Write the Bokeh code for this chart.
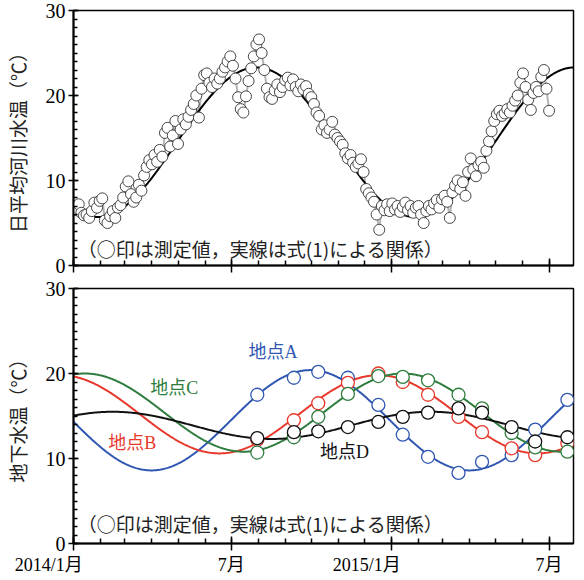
import numpy as np
from bokeh.plotting import figure
from bokeh.layouts import column
from bokeh.models import FixedTicker, Range1d, Label
from bokeh.embed import file_html
from bokeh.resources import INLINE

# ---------------- data ----------------
# x axis: days since 2014-01-01
month_start_days = [0, 31, 59, 90, 120, 151, 181, 212, 243, 273, 304, 334,
                    365, 396, 424, 455, 485, 516, 546]
major_tick_days = [0, 181, 365, 546]
major_tick_labels = ["2014/1月", "7月", "2015/1月", "7月"]
y_ticks = [0, 10, 20, 30]

# daily mean river water temperature, read every 3 days (day 0, 3, 6, ...)
river_temp = [
    7.0, 6.5, 7.2, 6.2, 5.9, 6.0, 5.6, 6.4, 7.4, 6.8, 7.6, 7.9, 5.3, 5.0, 5.8, 6.4,
    5.6, 6.8, 7.1, 8.0, 9.3, 9.9, 8.4, 7.5, 8.0, 9.5, 8.8, 10.6, 11.6, 12.4, 11.9, 13.0,
    12.2, 13.6, 12.8, 15.6, 16.2, 14.0, 15.3, 17.0, 14.3, 16.0, 17.2, 16.6, 17.5, 18.3,
    19.0, 20.0, 17.4, 20.8, 22.4, 22.6, 21.5, 21.0, 22.0, 21.4, 22.0, 22.8, 23.3, 24.0,
    24.6, 23.5, 22.0, 19.8, 18.4, 18.0, 19.9, 21.7, 23.2, 24.6, 26.0, 26.6, 25.0, 23.0,
    20.8, 19.8, 19.6, 20.6, 21.3, 20.4, 21.0, 21.8, 22.1, 21.2, 21.9, 21.0, 20.5, 21.3,
    20.7, 21.1, 20.2, 19.8, 19.0, 18.0, 17.6, 16.0, 16.5, 15.6, 16.0, 16.9, 15.4, 15.0,
    14.6, 14.2, 13.2, 12.6, 13.0, 12.1, 11.6, 12.0, 12.5, 11.0, 9.0, 8.5, 8.0, 7.5,
    6.0, 4.2, 7.0, 6.5, 7.2, 6.4, 7.3, 6.6, 7.0, 6.3, 6.9, 7.4, 6.5, 7.0, 6.2, 6.8,
    7.0, 6.0, 5.0, 6.4, 7.0, 6.6, 7.3, 7.7, 6.8, 7.8, 8.2, 7.5, 5.6, 8.6, 9.4, 10.0,
    9.0, 9.8, 8.2, 11.0, 12.6, 11.3, 10.5, 11.8, 12.2, 11.5, 13.5, 14.6, 15.8, 17.0,
    17.8, 18.2, 17.6, 17.9, 18.4, 18.0, 18.8, 19.4, 20.0, 21.5, 22.6, 21.0, 19.5, 18.3,
    20.3, 21.0, 20.5, 22.2, 23.0, 20.8, 18.2,
]
river_days = list(range(0, 3 * len(river_temp), 3))

# fitted relation (solid line, eq.(1)): mean, amplitude, peak day
river_fit = (14.5, 8.8, 210)

site_names = ["地点A", "地点B", "地点C", "地点D"]
meas_days = [211, 253, 281, 315, 350, 378, 407, 442, 469, 503, 530, 567]
site_A = [17.5, 19.5, 20.2, 19.5, 16.3, 12.8, 10.2, 8.3, 9.6, 10.4, 13.4, 16.9]
site_B = [12.2, 14.5, 16.5, 18.9, 20.0, 19.0, 17.5, 14.9, 13.1, 11.2, 10.4, 11.8]
site_C = [10.7, 12.5, 14.9, 17.6, 19.7, 19.6, 19.2, 17.5, 15.9, 13.0, 11.3, 10.8]
site_D = [12.4, 13.1, 13.2, 13.7, 14.3, 14.9, 15.4, 15.9, 15.4, 13.7, 12.0, 12.5]
site_fit_A = (14.5, 5.9, 272)
site_fit_B = (15.2, 4.6, 350)
site_fit_C = (15.4, 4.6, 378)
site_fit_D = (13.9, 1.6, 410)

note_text = "（○印は測定値，実線は式(1)による関係）"

# ---------------- styling ----------------
X_END = 574
FRAME_H = 255
col_A, col_B, col_C, col_D = "#2f56b0", "#e8382c", "#2f7d3e", "#111111"
JP = "Noto Sans CJK JP"
MIX = "'Liberation Serif', 'Noto Sans CJK JP'"
NB = "\u00a0"

curve_days = np.arange(0, X_END + 1)


def fit_curve(params):
    mean, amp, peak = params
    return mean + amp * np.cos(2 * np.pi * (curve_days - peak) / 365.0)


def make_fig(min_top, min_bottom, show_labels):
    p = figure(frame_width=500, frame_height=FRAME_H, output_backend="svg",
               toolbar_location=None, x_range=Range1d(0, X_END), y_range=Range1d(0, 30),
               min_border_left=70, min_border_right=4,
               min_border_top=min_top, min_border_bottom=min_bottom)
    p.xgrid.visible = False
    p.ygrid.visible = False
    p.outline_line_color = "black"
    p.outline_line_width = 1.5
    p.background_fill_color = "white"
    p.border_fill_color = "white"

    xa = p.xaxis[0]
    xa.ticker = FixedTicker(ticks=major_tick_days, minor_ticks=month_start_days)
    if show_labels:
        # "2014/1月" style labels: the "1月" part sits on the tick
        xa.major_label_overrides = {
            d: (t + NB * 11 if "/" in t else t)
            for d, t in zip(major_tick_days, major_tick_labels)}
        xa.major_label_text_font = MIX
        xa.major_label_text_font_size = "18px"
        xa.major_label_text_color = "black"
        xa.major_label_standoff = 4
    else:
        xa.major_label_overrides = {d: "" for d in major_tick_days}
        xa.major_label_text_font_size = "0px"
        xa.major_label_standoff = 0
    xa.axis_line_width = 2
    xa.major_tick_in = 7
    xa.major_tick_out = 7
    xa.minor_tick_in = 5
    xa.minor_tick_out = 0
    xa.major_tick_line_width = 1.5
    xa.minor_tick_line_width = 1.5

    ya = p.yaxis[0]
    ya.ticker = FixedTicker(ticks=y_ticks, minor_ticks=list(range(0, 31)))
    ya.axis_line_width = 2
    ya.major_tick_in = 5
    ya.major_tick_out = 5
    ya.minor_tick_in = 4
    ya.minor_tick_out = 0
    ya.major_tick_line_width = 1.5
    ya.minor_tick_line_width = 1.5
    ya.major_label_text_font = "Liberation Serif"
    ya.major_label_text_font_size = "20px"
    ya.major_label_text_color = "black"
    ya.major_label_standoff = 3
    ya.axis_label_text_font = JP
    ya.axis_label_text_font_size = "19px"
    ya.axis_label_text_font_style = "normal"
    ya.axis_label_text_color = "#222222"
    ya.axis_label_standoff = 12
    return p


# ---------- top: river water temperature ----------
p1 = make_fig(10, 12, False)
p1.yaxis[0].axis_label = "日平均河川水温（℃）"
p1.line(river_days, river_temp, line_color="#b5b5b5", line_width=2)
p1.line(curve_days, fit_curve(river_fit), line_color="black", line_width=2)
p1.scatter(river_days, river_temp, size=11, fill_color="white",
           line_color="#333333", line_width=0.9)
p1.add_layout(Label(x=5, y=2.0, text=note_text, text_font=JP, text_font_size="19px",
                    text_baseline="middle", text_color="#222222"))

# ---------- bottom: groundwater temperature ----------
p2 = make_fig(11, 29, True)
p2.yaxis[0].axis_label = "地下水温（℃）"
series = [(site_A, site_fit_A, col_A), (site_B, site_fit_B, col_B),
          (site_C, site_fit_C, col_C), (site_D, site_fit_D, col_D)]
for vals, fit, c in series:
    p2.line(curve_days, fit_curve(fit), line_color=c, line_width=2)
for vals, fit, c in series:
    p2.scatter(meas_days, vals, size=13, fill_color="white", line_color=c, line_width=1.3)

site_label_pos = [(201, 22.5), (40, 11.8), (88, 18.3), (283, 10.8)]
for name, (lx, ly), c in zip(site_names, site_label_pos, [col_A, col_B, col_C, col_D]):
    p2.add_layout(Label(x=lx, y=ly, text=name, text_font=MIX, text_font_size="18px",
                        text_baseline="middle", text_color=c))

p2.add_layout(Label(x=5, y=2.3, text=note_text, text_font=JP, text_font_size="19px",
                    text_baseline="middle", text_color="#222222"))

layout = column(p1, p2, spacing=0)
open("out.html", "w").write(file_html(layout, INLINE))
